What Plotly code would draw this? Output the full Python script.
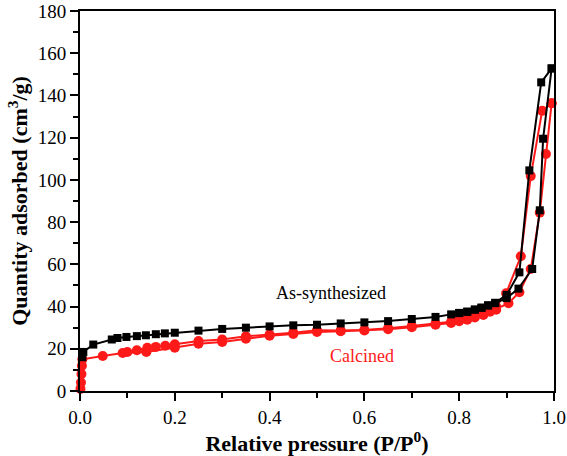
import plotly.graph_objects as go

# As-synthesized (black squares)
as_ads_x = [0.005, 0.007, 0.028, 0.067, 0.079, 0.098, 0.12, 0.139, 0.16, 0.179, 0.2, 0.25, 0.3, 0.35, 0.4,
            0.45, 0.5, 0.55, 0.6, 0.65, 0.7, 0.75, 0.783, 0.8, 0.817, 0.833, 0.847, 0.861, 0.876, 0.9,
            0.925, 0.954, 0.97, 0.977, 0.995]
as_ads_y = [16, 18.5, 22, 24.4, 25.1, 25.6, 26, 26.4, 26.9, 27.3, 27.6, 28.6, 29.4, 30, 30.6,
            31.1, 31.4, 32, 32.5, 33.1, 34.1, 35.1, 36.3, 36.9, 37.5, 38.5, 39.4, 40.5, 41.6, 44,
            48.5, 57.8, 85.6, 119.5, 152.8]
as_des_x = [0.995, 0.973, 0.948, 0.927, 0.9, 0.876, 0.861, 0.847, 0.833, 0.817, 0.8]
as_des_y = [152.8, 146.2, 104.5, 56.2, 45.5, 41.8, 40.6, 39.5, 38.6, 37.6, 37]

# Calcined (red circles)
ca_ads_x = [0.001, 0.002, 0.003, 0.004, 0.005, 0.048, 0.09, 0.14, 0.2, 0.25, 0.3, 0.35, 0.4, 0.45,
            0.5, 0.55, 0.6, 0.65, 0.7, 0.75, 0.783, 0.8, 0.817, 0.833, 0.851, 0.865, 0.878, 0.904,
            0.927, 0.951, 0.97, 0.983, 0.995]
ca_ads_y = [1, 4, 8, 12, 15, 16.6, 18, 18.5, 20.5, 22.4, 23.2, 24.8, 26.2, 27, 28, 28.3, 28.7,
            29.3, 30.2, 31.4, 32.2, 33, 33.8, 34.8, 36, 37.5, 38.5, 41.6, 46.8, 57.8, 84.5, 112.3, 136.3]
ca_des_x = [0.995, 0.975, 0.951, 0.93, 0.899, 0.878, 0.865, 0.851, 0.833, 0.817, 0.8, 0.783, 0.75,
            0.7, 0.65, 0.6, 0.55, 0.5, 0.45, 0.4, 0.35, 0.3, 0.25, 0.2, 0.18, 0.16, 0.142, 0.12, 0.1]
ca_des_y = [136.3, 132.7, 101.8, 63.8, 46.3, 40, 38.5, 37, 35.5, 34.5, 33.7, 32.8, 31.9, 30.8,
            29.7, 28.9, 28.6, 28.8, 27.6, 26.8, 25.9, 24.4, 23.7, 22.1, 21.4, 20.9, 20.5, 19.3, 18.5]

x_ticks = [0.0, 0.2, 0.4, 0.6, 0.8, 1.0]
x_labels = ["0.0", "0.2", "0.4", "0.6", "0.8", "1.0"]
y_ticks = [0, 20, 40, 60, 80, 100, 120, 140, 160, 180]

BLACK = "#000000"
RED = "#ff1a1a"
FONT = "Liberation Serif"

fig = go.Figure()
for xs, ys in [(ca_ads_x, ca_ads_y), (ca_des_x, ca_des_y)]:
    fig.add_trace(go.Scatter(x=xs, y=ys, mode="lines+markers",
                             line=dict(color=RED, width=2),
                             marker=dict(symbol="circle", size=10, color=RED),
                             showlegend=False, cliponaxis=False))
for xs, ys in [(as_ads_x, as_ads_y), (as_des_x, as_des_y)]:
    fig.add_trace(go.Scatter(x=xs, y=ys, mode="lines+markers",
                             line=dict(color=BLACK, width=2),
                             marker=dict(symbol="square", size=8, color=BLACK),
                             showlegend=False, cliponaxis=False))

fig.add_annotation(x=0.53, y=46.2, text="As-synthesized", showarrow=False,
                   font=dict(family=FONT, size=18, color=BLACK))
fig.add_annotation(x=0.594, y=16.5, text="Calcined", showarrow=False,
                   font=dict(family=FONT, size=18, color=RED))

axis_common = dict(showgrid=False, zeroline=False, showline=True, linecolor=BLACK, linewidth=2,
                   mirror=True, ticks="outside", ticklen=8, tickwidth=2, tickcolor=BLACK,
                   automargin=False,
                   tickfont=dict(family=FONT, size=19, color=BLACK))

fig.update_xaxes(range=[0, 1], tickvals=x_ticks, ticktext=x_labels,
                 minor=dict(dtick=0.1, ticks="outside", ticklen=5, tickwidth=2, tickcolor=BLACK),
                 title=dict(text="<b>Relative pressure (P/P<sup>0</sup>)</b>",
                            font=dict(family=FONT, size=22, color=BLACK), standoff=3),
                 **axis_common)
fig.update_yaxes(range=[0, 180], tickvals=y_ticks,
                 minor=dict(dtick=10, ticks="outside", ticklen=5, tickwidth=2, tickcolor=BLACK),
                 title=dict(text="<b>Quantity adsorbed (cm<sup>3</sup>/g)</b>",
                            font=dict(family=FONT, size=22, color=BLACK), standoff=4),
                 **axis_common)

fig.update_layout(width=567, height=456, margin=dict(l=80, r=13, t=11, b=65),
                  paper_bgcolor="white", plot_bgcolor="white")

fig.write_html("out.html", config={"displayModeBar": False},
               post_script="document.body.style.margin='0';document.body.style.overflow='hidden';")
